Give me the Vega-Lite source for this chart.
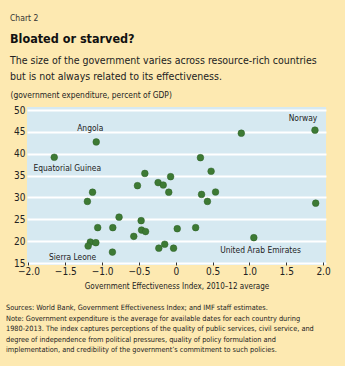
{
  "$schema": "https://vega.github.io/schema/vega-lite/v6.json",
  "background": "#fde9b1",
  "padding": {"left": 6, "top": 13, "right": 15, "bottom": 12},
  "bounds": "flush",
  "spacing": 30,
  "title": {"text": "Chart 2", "anchor": "start", "frame": "group", "dx": -17, "fontSize": 8.5, "fontWeight": "normal", "font": "DejaVu Sans Condensed, Liberation Sans, sans-serif", "color": "#333333", "offset": 11},
  "config": {
    "font": "DejaVu Sans Condensed, Liberation Sans, sans-serif",
    "axis": {"labelFont": "DejaVu Sans Condensed, Liberation Sans, sans-serif", "titleFont": "DejaVu Sans Condensed, Liberation Sans, sans-serif", "labelColor": "#222222", "titleColor": "#222222", "titleFontWeight": "normal"}
  },
  "vconcat": [
    {
      "width": 299,
      "height": 158,
      "view": {"fill": "#d6e9f1", "stroke": null},
      "title": {
        "text": "Bloated or starved?",
        "subtitle": ["The size of the government varies across resource-rich countries", "but is not always related to its effectiveness."],
        "anchor": "start", "frame": "group", "dx": -17, "offset": 7.5,
        "font": "DejaVu Sans Condensed, Liberation Sans, sans-serif", "fontSize": 12.5, "fontWeight": "bold", "color": "#111111",
        "subtitleFont": "DejaVu Sans Condensed, Liberation Sans, sans-serif", "subtitleFontSize": 10.5, "subtitleColor": "#222222",
        "subtitleLineHeight": 16.5, "subtitlePadding": 10
      },
      "data": {"values": [
        {"country": "Angola", "gei": -1.08, "exp": 42.7},
        {"country": "Equatorial Guinea", "gei": -1.65, "exp": 39.2},
        {"country": "", "gei": -0.42, "exp": 35.5},
        {"country": "", "gei": -0.07, "exp": 34.75},
        {"country": "", "gei": -0.52, "exp": 32.7},
        {"country": "", "gei": -0.24, "exp": 33.4},
        {"country": "", "gei": -0.17, "exp": 32.85},
        {"country": "", "gei": -0.095, "exp": 31.2},
        {"country": "", "gei": -1.13, "exp": 31.2},
        {"country": "", "gei": -1.2, "exp": 29.1},
        {"country": "", "gei": -0.77, "exp": 25.5},
        {"country": "", "gei": -0.47, "exp": 24.7},
        {"country": "", "gei": -1.06, "exp": 23.1},
        {"country": "", "gei": -0.855, "exp": 23.1},
        {"country": "", "gei": -0.465, "exp": 22.55},
        {"country": "", "gei": -0.41, "exp": 22.2},
        {"country": "", "gei": 0.02, "exp": 22.85},
        {"country": "", "gei": -0.57, "exp": 21.1},
        {"country": "", "gei": -1.16, "exp": 19.8},
        {"country": "", "gei": -1.085, "exp": 19.65},
        {"country": "Sierra Leone", "gei": -1.19, "exp": 18.9},
        {"country": "", "gei": -0.15, "exp": 19.3},
        {"country": "", "gei": -0.23, "exp": 18.4},
        {"country": "", "gei": -0.03, "exp": 18.4},
        {"country": "", "gei": -0.86, "exp": 17.5},
        {"country": "Norway", "gei": 1.89, "exp": 45.4},
        {"country": "", "gei": 0.89, "exp": 44.7},
        {"country": "", "gei": 0.335, "exp": 39.1},
        {"country": "", "gei": 0.48, "exp": 36.0},
        {"country": "", "gei": 0.35, "exp": 30.7},
        {"country": "", "gei": 0.54, "exp": 31.25},
        {"country": "", "gei": 0.43, "exp": 29.1},
        {"country": "", "gei": 1.9, "exp": 28.7},
        {"country": "", "gei": 0.27, "exp": 23.1},
        {"country": "United Arab Emirates", "gei": 1.06, "exp": 20.8}
      ]},
      "encoding": {
        "x": {"field": "gei", "type": "quantitative",
          "scale": {"domain": [-2.02, 2.04], "nice": false, "zero": false},
          "axis": {"values": [-2, -1.5, -1, -0.5, 0, 0.5, 1, 1.5, 2],
            "labelExpr": "datum.value == 0 ? '0' : format(datum.value, '.1f')",
            "grid": false, "domain": false, "ticks": true, "tickSize": -3, "tickColor": "#333333", "tickWidth": 1,
            "labelFontSize": 10, "labelPadding": 4,
            "title": "Government Effectiveness Index, 2010–12 average", "titleFontSize": 8, "titlePadding": 6.5}},
        "y": {"field": "exp", "type": "quantitative",
          "scale": {"domain": [14.55, 50.7], "nice": false, "zero": false},
          "axis": {"values": [15, 20, 25, 30, 35, 40, 45, 50],
            "grid": true, "gridColor": "#ffffff", "gridWidth": 2, "ticks": false, "domain": false,
            "labelFontSize": 10, "labelPadding": 2,
            "title": "(government expenditure, percent of GDP)", "titleAngle": 0, "titleAlign": "left", "titleBaseline": "middle",
            "titleX": -17, "titleY": -13, "titleFontSize": 8.4}}
      },
      "layer": [
        {"mark": {"type": "circle", "size": 45, "color": "#3d7a34", "opacity": 1, "stroke": "#2e6128", "strokeWidth": 0.5}},
        {"transform": [{"filter": "datum.country == 'Angola'"}],
         "mark": {"type": "text", "dx": -6, "dy": -14, "align": "center", "baseline": "middle", "fontSize": 8.4, "color": "#222222"},
         "encoding": {"text": {"field": "country"}}},
        {"transform": [{"filter": "datum.country == 'Equatorial Guinea'"}],
         "mark": {"type": "text", "dx": 13, "dy": 10.5, "align": "center", "baseline": "middle", "fontSize": 8.4, "color": "#222222"},
         "encoding": {"text": {"field": "country"}}},
        {"transform": [{"filter": "datum.country == 'Sierra Leone'"}],
         "mark": {"type": "text", "dx": -15.5, "dy": 11.3, "align": "center", "baseline": "middle", "fontSize": 8.4, "color": "#222222"},
         "encoding": {"text": {"field": "country"}}},
        {"transform": [{"filter": "datum.country == 'Norway'"}],
         "mark": {"type": "text", "dx": -12, "dy": -12, "align": "center", "baseline": "middle", "fontSize": 8.4, "color": "#222222"},
         "encoding": {"text": {"field": "country"}}},
        {"transform": [{"filter": "datum.country == 'United Arab Emirates'"}],
         "mark": {"type": "text", "dx": 6.7, "dy": 12.3, "align": "center", "baseline": "middle", "fontSize": 8.4, "color": "#222222"},
         "encoding": {"text": {"field": "country"}}}
      ]
    },
    {
      "width": 299,
      "height": 1,
      "view": {"fill": null, "stroke": null},
      "title": {
        "text": [
          "\u00a0\u00a0\u00a0\u00a0\u00a0\u00a0Sources: World Bank, Government Effectiveness Index; and IMF staff estimates.",
          "\u00a0\u00a0\u00a0\u00a0\u00a0\u00a0\u00a0\u00a0Note: Government expenditure is the average for available dates for each country during",
          "1980-2013. The index captures perceptions of the quality of public services, civil service, and",
          "degree of independence from political pressures, quality of policy formulation and",
          "implementation, and credibility of the government’s commitment to such policies."
        ],
        "orient": "bottom", "anchor": "start", "frame": "group", "dx": -21, "offset": 3.5,
        "font": "DejaVu Sans Condensed, Liberation Sans, sans-serif", "fontSize": 7.3, "fontWeight": "normal", "color": "#222222", "lineHeight": 10.5
      },
      "data": {"values": [{}]},
      "mark": {"type": "text"},
      "encoding": {"text": {"value": ""}}
    }
  ]
}
